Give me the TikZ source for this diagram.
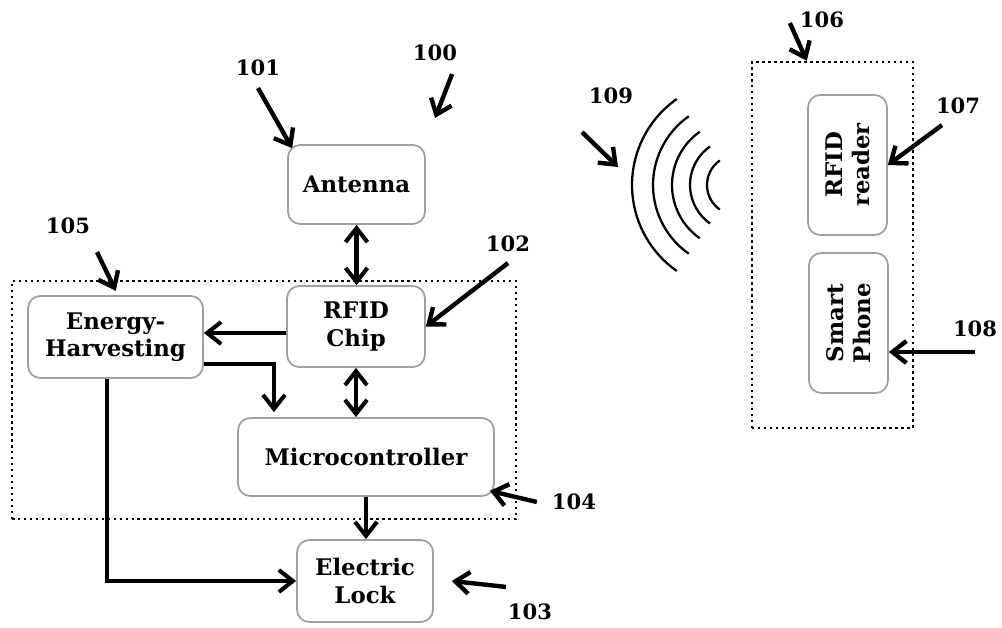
\documentclass[tikz,border=0pt]{standalone}
\usepackage{fontspec}
\setmainfont{DejaVu Serif}
\usetikzlibrary{arrows.meta}

\begin{document}
\begin{tikzpicture}[x=0.02cm,y=-0.02cm,
        >={Straight Barb[length=2.8mm,width=4.4mm]},
        blk/.style={draw=gray!75,line width=1pt,rounded corners=7pt,align=center,
            font=\bfseries\fontsize{13}{15.5}\selectfont,inner sep=2pt},
        grp/.style={draw,line width=1.4pt,dash pattern=on 1.4pt off 2pt},
        lbl/.style={font=\bfseries\fontsize{12}{14}\selectfont,inner sep=1pt},
        flow/.style={->,line width=2.3pt},
        dflow/.style={<->,line width=2.3pt},
        ptr/.style={->,line width=2.5pt}]
        \useasboundingbox (0,0) rectangle (1002,628);

        \node[grp,minimum width=10.08cm,minimum height=4.76cm] (tag) at (264,400) {};
        \node[grp,minimum width=3.22cm,minimum height=7.32cm] (dev) at (832.5,245) {};

        \node[blk,minimum width=2.74cm,minimum height=1.58cm] (ant) at (356.5,184.5) {Antenna};
        \node[blk,minimum width=2.76cm,minimum height=1.62cm] (chip) at (356,326.5) {RFID\\Chip};
        \node[blk,minimum width=3.5cm,minimum height=1.64cm] (eh) at (115.5,337) {Energy-\\Harvesting};
        \node[blk,minimum width=5.12cm,minimum height=1.56cm] (mcu) at (366,457) {Microcontroller};
        \node[blk,minimum width=2.72cm,minimum height=1.64cm] (lock) at (365,581) {Electric\\Lock};
        \node[blk,rotate=90,minimum width=2.8cm,minimum height=1.58cm] (rdr) at (847.5,165) {RFID\\reader};
        \node[blk,rotate=90,minimum width=2.8cm,minimum height=1.58cm] (ph) at (848.5,323) {Smart\\Phone};

        \draw[dflow] (ant.south) -- (ant.south |- chip.north);
        \draw[flow] ([yshift=-0.13cm]chip.west) -- ([yshift=-0.13cm]chip.west -| eh.east);
        \draw[flow] ([yshift=-0.54cm]eh.east) -| ([xshift=-1.84cm,yshift=0.1cm]mcu.north);
        \draw[dflow] (chip.south) -- (chip.south |- mcu.north);
        \draw[flow] (mcu.south) -- (mcu.south |- lock.north);
        \draw[flow] ([xshift=-0.17cm]eh.south) |- (lock.west);

        % waves
        \coordinate (wav) at (737,185);
        \foreach \r in {0.6,0.94,1.3,1.68,2.1}
            \draw[line width=1.3pt] ([shift={(125:\r cm)}]wav) arc[start angle=125,end angle=235,radius=\r cm];

        % reference numbers
        \node[lbl] (l100) at (435,53) {100};
        \node[lbl] (l101) at (258,68) {101};
        \node[lbl] (l102) at (508,244) {102};
        \node[lbl] (l103) at (530,612) {103};
        \node[lbl] (l104) at (574,502) {104};
        \node[lbl] (l105) at (68,226) {105};
        \node[lbl] (l106) at (822,20) {106};
        \node[lbl] (l107) at (958,106) {107};
        \node[lbl] (l108) at (975,329) {108};
        \node[lbl] (l109) at (611,96) {109};

        \coordinate (p100) at (435,118);
        \coordinate (p108) at ([yshift=-0.58cm]ph.south);
        \coordinate (p109) at (618,167);
        \draw[ptr] ([xshift=-0.14cm,yshift=-0.22cm]l100.south east) -- (p100);
        \draw[ptr] ([yshift=-0.2cm]l101.south) -- ([shift={(0.1cm,-0.08cm)}]ant.north west);
        \draw[ptr] ([yshift=-0.18cm]l102.south) -- (chip.east);
        \draw[ptr] ([yshift=0.3cm]l103.north west) -- ([xshift=0.36cm]lock.east);
        \draw[ptr] ([xshift=-0.26cm]l104.west) -- ([shift={(-0.1cm,0.12cm)}]mcu.south east);
        \draw[ptr] ([shift={(0.58cm,-0.32cm)}]l105.south) -- ([shift={(2.1cm,-0.22cm)}]tag.north west);
        \draw[ptr] ([shift={(-0.16cm,-0.06cm)}]l106.west) -- ([xshift=1.12cm]dev.north west);
        \draw[ptr] ([shift={(-0.32cm,-0.18cm)}]l107.south) -- (rdr.south);
        \draw[ptr] (l108.south |- p108) -- (p108);
        \draw[ptr] ([shift={(-0.58cm,-0.52cm)}]l109.south) -- (p109);
    \end{tikzpicture}
\end{document}
